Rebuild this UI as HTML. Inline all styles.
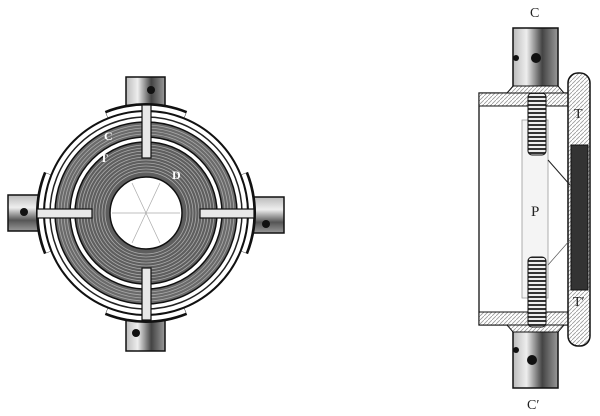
<!DOCTYPE html>
<html><head><meta charset="utf-8"><style>
html,body{margin:0;padding:0;background:#fff;width:600px;height:416px;overflow:hidden}
text{font-family:"Liberation Serif",serif;fill:#222}
</style></head><body>
<svg width="600" height="416" viewBox="0 0 600 416">
<defs>
<pattern id="diag" width="4" height="4" patternUnits="userSpaceOnUse"><rect width="4" height="4" fill="#fff"/><path d="M0 4L4 0" stroke="#999" stroke-width="0.8"/></pattern>
<pattern id="thread" width="4" height="4" patternUnits="userSpaceOnUse"><rect width="4" height="4" fill="#eee"/><rect width="4" height="2" fill="#333"/></pattern>
<linearGradient id="pipeV" x1="0" x2="1"><stop offset="0" stop-color="#bbb"/><stop offset="0.3" stop-color="#eee"/><stop offset="0.65" stop-color="#444"/><stop offset="1" stop-color="#999"/></linearGradient>
<linearGradient id="pipeH" x1="0" x2="0" y1="0" y2="1"><stop offset="0" stop-color="#bbb"/><stop offset="0.35" stop-color="#eee"/><stop offset="0.7" stop-color="#555"/><stop offset="1" stop-color="#999"/></linearGradient>
</defs>
<g>
 <g><rect x="126" y="77" width="39" height="30" fill="url(#pipeV)" stroke="#111" stroke-width="1.5"/><circle cx="151" cy="90" r="4" fill="#111"/></g>
 <g><rect x="126" y="318" width="39" height="33" fill="url(#pipeV)" stroke="#111" stroke-width="1.5"/><circle cx="136" cy="333" r="4" fill="#111"/></g>
 <g><rect x="8" y="195" width="32" height="36" fill="url(#pipeH)" stroke="#111" stroke-width="1.5"/><circle cx="24" cy="212" r="4" fill="#111"/></g>
 <g><rect x="252" y="197" width="32" height="36" fill="url(#pipeH)" stroke="#111" stroke-width="1.5"/><circle cx="266" cy="224" r="4" fill="#111"/></g>
 <g fill="none">
  <g stroke="#111" stroke-width="10">
   <path d="M106.7 115.6 A105 105 0 0 1 185.3 115.6"/><path d="M106.7 310.4 A105 105 0 0 0 185.3 310.4"/>
   <path d="M48.6 173.7 A105 105 0 0 0 48.6 252.3"/><path d="M243.4 173.7 A105 105 0 0 1 243.4 252.3"/>
  </g>
  <g stroke="#fff" stroke-width="7">
   <path d="M107.5 116.5 A105 105 0 0 1 184.5 116.5"/><path d="M107.5 309.5 A105 105 0 0 0 184.5 309.5"/>
   <path d="M49.5 174.5 A105 105 0 0 0 49.5 251.5"/><path d="M242.5 174.5 A105 105 0 0 1 242.5 251.5"/>
  </g>
 </g>
 <circle cx="146" cy="213" r="102" fill="#fff" stroke="#111" stroke-width="2"/>
 <circle cx="146" cy="213" r="96" fill="none" stroke="#222" stroke-width="1.5"/>
 <circle cx="146" cy="213" r="91" fill="#6a6a6a" stroke="#111" stroke-width="1.5"/>
 <g fill="none" stroke="#aaa" stroke-width="0.8"><circle cx="146" cy="213" r="88"/><circle cx="146" cy="213" r="85"/><circle cx="146" cy="213" r="82"/><circle cx="146" cy="213" r="79"/></g>
 <circle cx="146" cy="213" r="76" fill="#fff" stroke="#111" stroke-width="1.5"/>
 <circle cx="146" cy="213" r="71" fill="#5e5e5e" stroke="#111" stroke-width="1.5"/>
 <g fill="none" stroke="#aaa" stroke-width="0.8"><circle cx="146" cy="213" r="68"/><circle cx="146" cy="213" r="65"/><circle cx="146" cy="213" r="62"/><circle cx="146" cy="213" r="59"/><circle cx="146" cy="213" r="56"/><circle cx="146" cy="213" r="53"/><circle cx="146" cy="213" r="50"/><circle cx="146" cy="213" r="47"/><circle cx="146" cy="213" r="44"/><circle cx="146" cy="213" r="41"/></g>
 <circle cx="146" cy="213" r="36" fill="#fff" stroke="#111" stroke-width="1.5"/>
 <g stroke="#aaa" stroke-width="0.7">
  <line x1="112" y1="213" x2="180" y2="213"/><line x1="132" y1="183" x2="160" y2="243"/><line x1="160" y1="183" x2="132" y2="243"/>
 </g>
 <g fill="#e8e8e8" stroke="#111" stroke-width="1.2">
  <rect x="142" y="105" width="9" height="53"/><rect x="142" y="268" width="9" height="52"/>
  <rect x="37" y="209" width="55" height="9"/><rect x="200" y="209" width="54" height="9"/>
 </g>
 <text x="104" y="140" font-size="12" font-weight="bold" style="fill:#fff">C</text>
 <text x="100" y="162" font-size="12" font-weight="bold" style="fill:#fff">T</text>
 <text x="172" y="179" font-size="12" font-weight="bold" style="fill:#fff">D</text>
</g>
<g>
 <text x="530" y="17" font-size="14">C</text>
 <g><rect x="513" y="28" width="45" height="60" fill="url(#pipeV)" stroke="#111" stroke-width="1.5"/><circle cx="536" cy="58" r="5" fill="#111"/><circle cx="516" cy="58" r="3" fill="#111"/></g>
 <g><rect x="513" y="330" width="45" height="58" fill="url(#pipeV)" stroke="#111" stroke-width="1.5"/><circle cx="532" cy="360" r="5" fill="#111"/><circle cx="516" cy="350" r="3" fill="#111"/></g>
 <rect x="479" y="93" width="90" height="232" fill="#fff" stroke="#111" stroke-width="1.3"/>
 <rect x="479" y="93" width="90" height="13" fill="url(#diag)" stroke="#111"/>
 <rect x="479" y="312" width="90" height="13" fill="url(#diag)" stroke="#111"/>
 <path d="M507 93 L513 86 L558 86 L564 93Z" fill="url(#diag)" stroke="#111"/>
 <path d="M507 325 L513 332 L558 332 L564 325Z" fill="url(#diag)" stroke="#111"/>
 <rect x="522" y="120" width="26" height="178" fill="#f4f4f4" stroke="#999" stroke-width="0.8"/>
 <rect x="528" y="93" width="18" height="62" rx="4" fill="url(#thread)" stroke="#111"/>
 <rect x="528" y="257" width="18" height="70" rx="4" fill="url(#thread)" stroke="#111"/>
 <rect x="568" y="73" width="22" height="273" rx="10" fill="url(#diag)" stroke="#111" stroke-width="1.5"/>
 <rect x="571" y="145" width="17" height="145" fill="#333" stroke="#111"/>
 <line x1="548" y1="160" x2="570" y2="185" stroke="#222"/>
 <line x1="548" y1="265" x2="570" y2="240" stroke="#555" stroke-width="0.7"/>
 <text x="531" y="216" font-size="15">P</text>
 <text x="574" y="118" font-size="14">T</text>
 <text x="573" y="306" font-size="14">T′</text>
 <text x="527" y="409" font-size="14">C′</text>
</g>
</svg>
</body></html>
